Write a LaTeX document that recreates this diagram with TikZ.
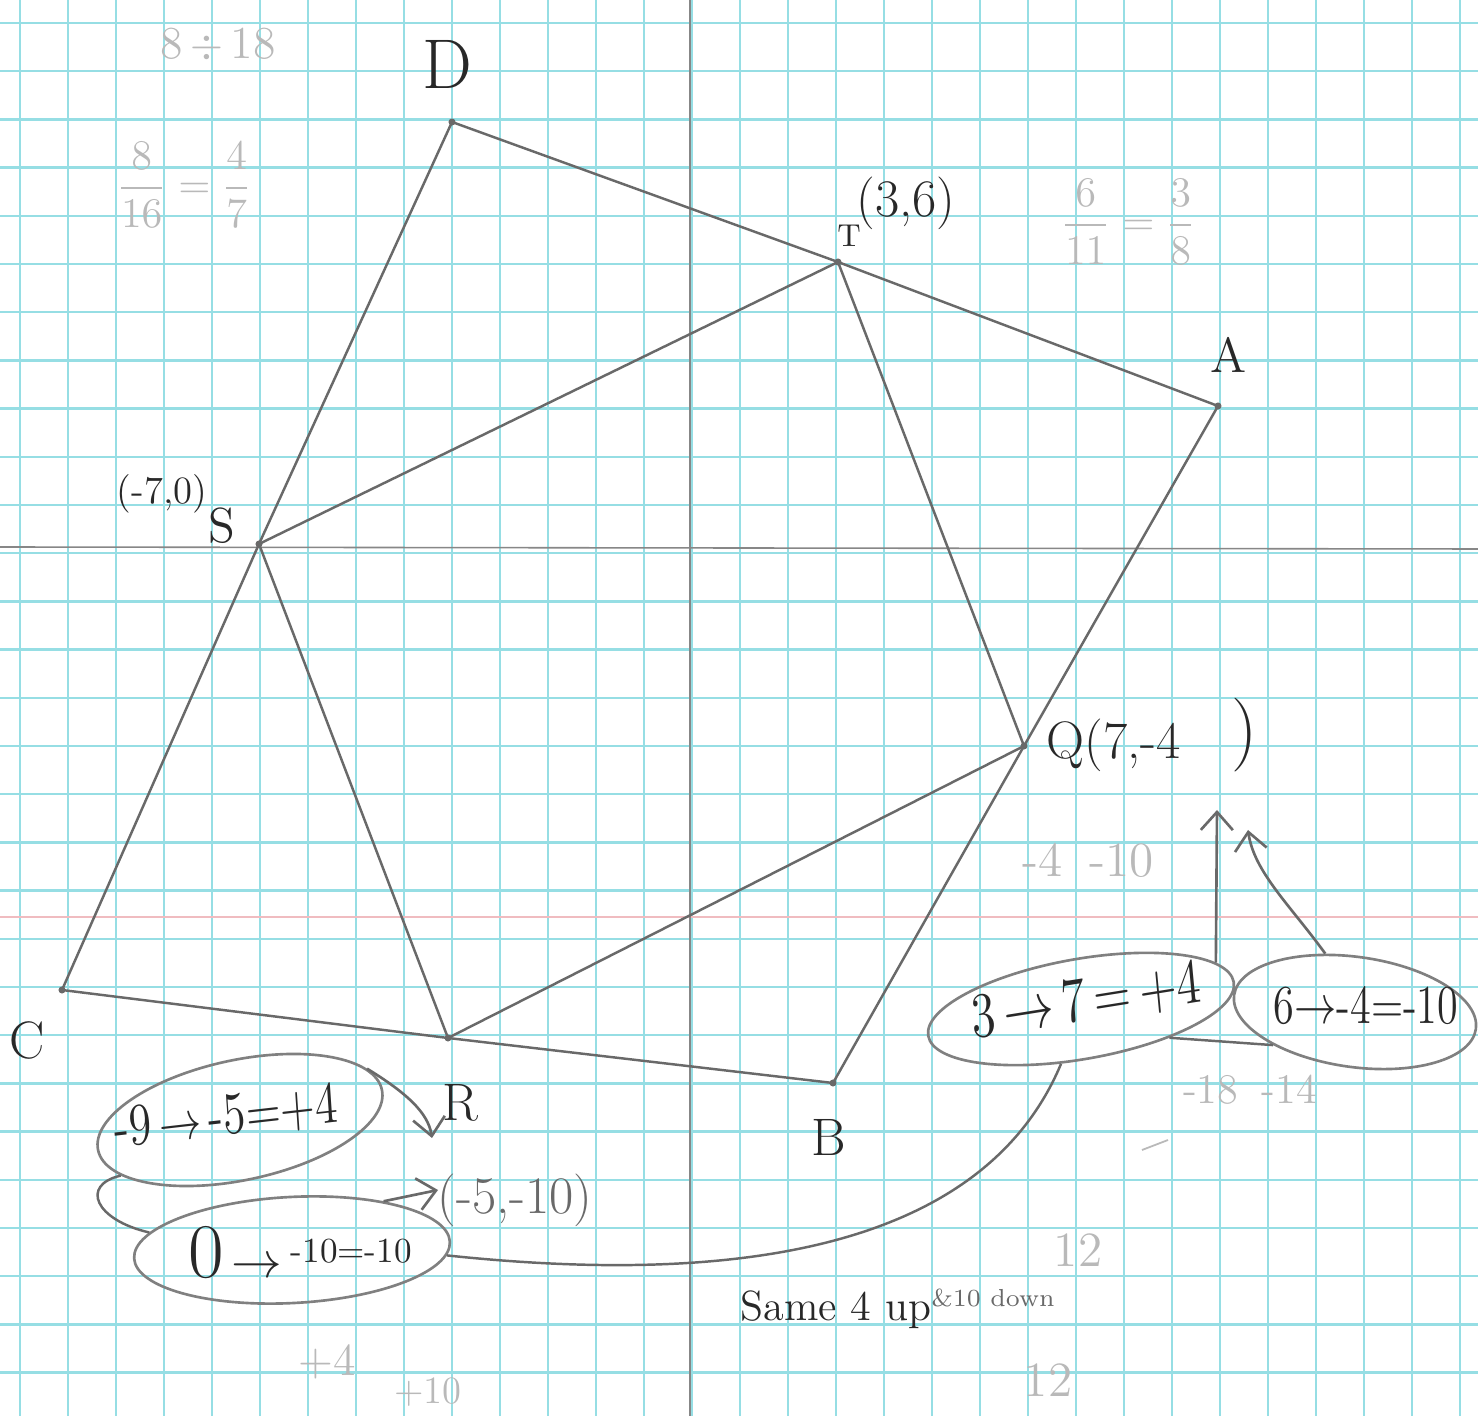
\documentclass[tikz,border=0pt]{standalone}
\usepackage{tikz}
\usetikzlibrary{arrows.meta, shapes.geometric}

\definecolor{gridcyan}{RGB}{150,222,228}
\definecolor{pencil}{RGB}{105,105,105}
\definecolor{ink}{RGB}{40,40,40}
\definecolor{faint}{RGB}{185,185,185}
\definecolor{margin}{RGB}{240,188,192}

\tikzset{
    gridline/.style={color=gridcyan, line width=0.7pt},
    axisline/.style={color=pencil!80, line width=0.45pt},
    side/.style={color=pencil, line width=0.7pt},
    ring/.style={draw=pencil!85, line width=0.75pt, ellipse, inner sep=0pt},
    inklabel/.style={color=ink, inner sep=0pt},
    faintnote/.style={color=faint, inner sep=0pt},
    arr/.style={draw=pencil, line width=0.75pt, -{Straight Barb[length=1.8mm, width=3.2mm]}}
}

\begin{document}
\begin{tikzpicture}[x=0.01cm, y=-0.01cm]
    % Define the layers
    \pgfdeclarelayer{paper}
    \pgfsetlayers{paper,main}

    \useasboundingbox ({0}, {0}) rectangle ({1478}, {1416});

    % Graph paper
    \begin{pgfonlayer}{paper}
        \fill[white] ({0}, {0}) rectangle ({1478}, {1416});
        \foreach \gx in {20,68,...,1460}
            \draw[gridline] ({\gx}, {0}) -- ({\gx}, {1416});
        \foreach \gy in {23,71.2,...,1400}
            \draw[gridline] ({0}, {\gy}) -- ({1478}, {\gy});
        \draw[color=margin, line width=0.6pt] ({0}, {917}) -- ({1478}, {917});
    \end{pgfonlayer}

    % Axes
    \draw[axisline] ({0}, {547}) -- ({1478}, {549});
    \draw[axisline] ({690}, {0}) -- ({690}, {1416});

    % Corners
    \coordinate (d) at ({452}, {122});
    \coordinate (t) at ({838}, {262});
    \coordinate (a) at ({1218}, {406});
    \coordinate (s) at ({259}, {544});
    \coordinate (q) at ({1024}, {746});
    \coordinate (c) at ({62}, {990});
    \coordinate (r) at ({448}, {1038});
    \coordinate (b) at ({833}, {1083});

    \draw[side] (d) -- (t) -- (a) -- (q) -- (b) -- (r) -- (c) -- (s) -- cycle;
    \draw[side] (s) -- (t) -- (q) -- (r) -- cycle;
    \foreach \p in {d,t,a,s,q,c,r,b}
        \fill[pencil] (\p) circle (1pt);

    % Labels
    \node[inklabel, font=\fontsize{20}{24}\selectfont] (dlabel) at ({447}, {64}) {D};
    \node[inklabel, font=\fontsize{9}{11}\selectfont] (tlabel) at ({849}, {236}) {T};
    \node[inklabel, font=\fontsize{15}{18}\selectfont] (tcoord) at ({906}, {203}) {(3,6)};
    \node[inklabel, font=\fontsize{14}{17}\selectfont] (alabel) at ({1229}, {355}) {A};
    \node[inklabel, font=\fontsize{11}{14}\selectfont] (scoord) at ({162}, {494}) {(-7,0)};
    \node[inklabel, font=\fontsize{14}{17}\selectfont] (slabel) at ({222}, {526}) {S};
    \node[inklabel, font=\fontsize{15}{18}\selectfont] (qcoord) at ({1114}, {745}) {Q(7,-4};
    \node[inklabel, font=\fontsize{21}{25}\selectfont] (qclose) at ({1245}, {735}) {)};
    \node[inklabel, font=\fontsize{15}{18}\selectfont] (clabel) at ({27}, {1040}) {C};
    \node[inklabel, font=\fontsize{15}{18}\selectfont] (rlabel) at ({460}, {1103}) {R};
    \node[inklabel, font=\fontsize{15}{18}\selectfont] (blabel) at ({829}, {1137}) {B};
    \node[color=pencil, inner sep=0pt, font=\fontsize{15}{18}\selectfont] (rcoord) at ({515}, {1200}) {(-5,-10)};

    % Pencil notes
    \node[faintnote, font=\fontsize{13}{16}\selectfont] (topnote) at ({218}, {45}) {8\,$\div$\,18};
    \node[faintnote, font=\fontsize{12}{15}\selectfont] (dslope) at ({184}, {185}) {$\displaystyle\frac{8}{16}=\frac{4}{7}$};
    \node[faintnote, font=\fontsize{12}{15}\selectfont] (aslope) at ({1128}, {222}) {$\displaystyle\frac{6}{11}=\frac{3}{8}$};
    \node[faintnote, font=\fontsize{14}{17}\selectfont] (qnote) at ({1088}, {860}) {-4\;\;-10};
    \node[faintnote, font=\fontsize{12}{15}\selectfont] (bnote) at ({1250}, {1090}) {-18\;\;-14};
    \node[faintnote, font=\fontsize{14}{17}\selectfont] (twelvea) at ({1078}, {1250}) {12};
    \node[faintnote, font=\fontsize{14}{17}\selectfont] (twelveb) at ({1048}, {1380}) {12};
    \node[faintnote, font=\fontsize{13}{16}\selectfont] (plusfour) at ({327}, {1362}) {+4};
    \node[faintnote, font=\fontsize{11}{13}\selectfont] (plusten) at ({428}, {1392}) {+10};
    \draw[faint, line width=0.5pt] ({1142}, {1150}) -- ({1168}, {1140});

    % Changes for Q
    \node[ring, minimum width=3.1cm, minimum height=1.0cm, rotate=10] (qx) at ({1081}, {1009}) {};
    \node[inklabel, yscale=1.3, rotate=7, font=\fontsize{14}{17}\selectfont] (qxtext) at ({1086}, {1001}) {3\,$\to$\,7\,=\,+4};
    \node[ring, minimum width=2.44cm, minimum height=1.1cm, rotate=-8] (qy) at ({1355}, {1012}) {};
    \node[inklabel, yscale=1.3, font=\fontsize{12}{15}\selectfont] (qytext) at ({1366}, {1006}) {6$\to$-4=-10};
    \coordinate (qxtip) at ({1217}, {810});
    \coordinate (qytip) at ({1248}, {830});
    \draw[arr] (qx.9) -- (qxtip);
    \draw[arr] (qy.125) .. controls ({1290}, {905}) and ({1254}, {872}) .. (qytip);
    \draw[side] (qx.-28) -- (qy.-150);

    % Changes for R
    \node[ring, minimum width=2.9cm, minimum height=1.2cm, rotate=12] (rx) at ({240}, {1120}) {};
    \node[inklabel, yscale=1.3, rotate=5, font=\fontsize{13}{16}\selectfont] (rxtext) at ({226}, {1117}) {-9\,$\to$\,-5=+4};
    \node[ring, minimum width=3.16cm, minimum height=1.06cm, rotate=3] (ry) at ({292}, {1250}) {};
    \node[inklabel, font=\fontsize{14}{17}\selectfont] (rytext) at ({300}, {1253})
        {{\fontsize{22}{26}\selectfont 0}\,$\to$\,\raisebox{1.5mm}{\fontsize{10}{12}\selectfont -10=-10}};
    \coordinate (rxtip) at ({432}, {1138});
    \coordinate (rytip) at ({438}, {1190});
    \draw[arr] (rx.10) .. controls ({405}, {1092}) and ({428}, {1112}) .. (rxtip);
    \draw[arr] (ry.25) -- (rytip);
    \draw[side] (rx.193) .. controls ({80}, {1185}) and ({95}, {1220}) .. (ry.170);

    % Same change
    \draw[side] (ry.-5) .. controls ({820}, {1295}) and ({1000}, {1210}) .. (qx.240);
    \node[inklabel, font=\fontsize{12}{15}\selectfont] (same) at ({836}, {1310}) {Same 4 up};
    \node[color=pencil, inner sep=0pt, font=\fontsize{7}{9}\selectfont] (down) at ({993}, {1298}) {\&10 down};
\end{tikzpicture}
\end{document}
